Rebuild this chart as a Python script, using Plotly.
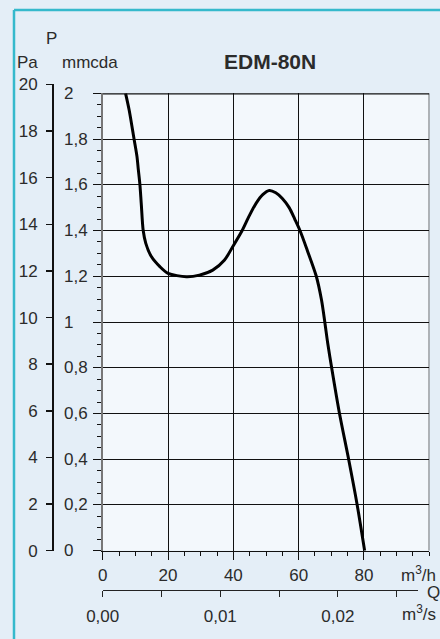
import plotly.graph_objects as go

# ---------------- data ----------------
flow_m3h = [7.0, 8.1, 9.6, 10.5, 10.9, 11.4, 11.8, 12.4, 13.2, 14.9, 17.5, 20.0,
            25.6, 29.6, 33.7, 37.3, 39.8, 42.7, 44.9, 47.0, 49.0, 51.0, 53.0, 55.0,
            57.1, 58.8, 60.4, 62.6, 65.4, 67.0, 68.0, 68.9, 70.1, 72.5, 75.3, 77.8,
            80.2]
pressure_mmcda = [2.0, 1.927, 1.8, 1.723, 1.667, 1.6, 1.519, 1.40, 1.344, 1.286, 1.242,
                  1.213, 1.198, 1.205, 1.227, 1.271, 1.329, 1.40, 1.465, 1.52, 1.557,
                  1.575, 1.565, 1.54, 1.50, 1.45, 1.40, 1.315, 1.20, 1.096, 1.0, 0.907,
                  0.8, 0.6, 0.4, 0.21, 0.0]

q_ticks = [0, 20, 40, 60, 80]
q_ticktext = ["0", "20", "40", "60", "80"]
qs_ticks = [0, 0.01, 0.02]
qs_ticktext = ["0,00", "0,01", "0,02"]
mm_ticks = [0, 0.2, 0.4, 0.6, 0.8, 1.0, 1.2, 1.4, 1.6, 1.8, 2.0]
mm_ticktext = ["0", "0,2", "0,4", "0,6", "0,8", "1", "1,2", "1,4", "1,6", "1,8", "2"]
pa_ticks = [0, 2, 4, 6, 8, 10, 12, 14, 16, 18, 20]

title_text = "EDM-80N"
X_RANGE = [0, 100]
Y_RANGE = [0, 2]
PA_PER_MMCDA = 9.81

# ---------------- layout helpers (screen pixel -> paper) ----------------
W, H = 440, 639
T, B = 70, 40
PH = H - T - B


def fx(px):
    return px / W


def fy(py):
    return (H - B - py) / PH


FONT = "Liberation Sans, Arial, Helvetica, sans-serif"
TXT = "#2b2b2b"
FS = 17

x_left, x_right = 102.7, 429.3
y_bottom, y_top = 550.7, 93.3
px_per_m3h = (x_right - x_left) / (X_RANGE[1] - X_RANGE[0])
px_per_mm = (y_bottom - y_top) / (Y_RANGE[1] - Y_RANGE[0])
pa_top_px = y_bottom - px_per_mm * (pa_ticks[-1] / PA_PER_MMCDA)
qs_end_px = 417.5
qs_end = (qs_end_px - x_left) / px_per_m3h / 3600.0

fig = go.Figure()

fig.add_trace(go.Scatter(
    x=flow_m3h, y=pressure_mmcda, mode="lines",
    line=dict(color="black", width=3, shape="spline", smoothing=0.8),
    xaxis="x", yaxis="y", hoverinfo="skip", showlegend=False,
))
# invisible helpers so the extra axes get drawn
fig.add_trace(go.Scatter(x=[None], y=[None], xaxis="x3", yaxis="y2",
                         showlegend=False, hoverinfo="skip"))
fig.add_trace(go.Scatter(x=[None], y=[None], xaxis="x2", yaxis="y3",
                         showlegend=False, hoverinfo="skip"))

fig.update_layout(
    template="none",
    width=W, height=H,
    margin=dict(l=0, r=0, t=T, b=B, pad=0, autoexpand=False),
    paper_bgcolor="#e4eef7",
    plot_bgcolor="rgba(0,0,0,0)",
    font=dict(family=FONT, size=FS, color=TXT),
    showlegend=False,
    hovermode=False,
    xaxis=dict(
        domain=[fx(x_left), fx(x_right)], range=X_RANGE, anchor="y",
        tickvals=q_ticks, ticktext=q_ticktext, ticks="outside", ticklen=8,
        tickcolor="#111", tickwidth=1,
        minor=dict(dtick=5, tick0=0, ticks="outside", ticklen=4, tickcolor="#111",
                   tickwidth=1, showgrid=False),
        showgrid=True, gridcolor="#111", gridwidth=1,
        showline=True, linecolor="#111", linewidth=1.5,
        zeroline=False, tickfont=dict(size=FS, color=TXT), fixedrange=True,
        automargin=False,
    ),
    yaxis=dict(
        domain=[fy(y_bottom), fy(y_top)], range=Y_RANGE, anchor="x",
        tickvals=mm_ticks, showticklabels=False, ticks="outside", ticklen=8,
        tickcolor="#111", tickwidth=1,
        minor=dict(dtick=0.05, tick0=0, ticks="outside", ticklen=4, tickcolor="#111",
                   tickwidth=1, showgrid=False),
        showgrid=True, gridcolor="#111", gridwidth=1,
        showline=True, linecolor="#777", linewidth=1.5,
        zeroline=False, fixedrange=True, automargin=False,
    ),
    yaxis2=dict(
        domain=[fy(y_bottom), fy(pa_top_px)], range=[0, pa_ticks[-1]],
        anchor="free", position=fx(52), side="left",
        tickvals=pa_ticks, ticks="outside", ticklen=6, tickcolor="#111", tickwidth=1.5,
        showline=True, linecolor="#111", linewidth=1.5, showgrid=False,
        zeroline=False, ticklabelstandoff=5,
        tickfont=dict(size=FS, color=TXT), fixedrange=True, automargin=False,
    ),
    xaxis3=dict(domain=[fx(x_left), fx(x_right)], range=X_RANGE, anchor="y2",
                visible=False, showgrid=False, fixedrange=True, automargin=False),
    xaxis2=dict(
        domain=[fx(x_left), fx(qs_end_px)], range=[0, qs_end],
        anchor="free", position=fy(590), side="bottom",
        tickvals=qs_ticks, ticktext=qs_ticktext, ticks="outside", ticklen=6,
        tickcolor="#222", tickwidth=1,
        minor=dict(dtick=0.005, tick0=0, ticks="outside", ticklen=6,
                   tickcolor="#222", tickwidth=1, showgrid=False),
        showline=True, linecolor="#222", linewidth=1, showgrid=False,
        zeroline=False, ticklabelstandoff=5,
        tickfont=dict(size=FS, color=TXT), fixedrange=True, automargin=False,
    ),
    yaxis3=dict(domain=[fy(y_bottom), fy(y_top)], range=Y_RANGE,
                anchor="x2", visible=False, showgrid=False, fixedrange=True,
                automargin=False),
)

shapes = [
    # plot background
    dict(type="rect", xref="x", yref="y", x0=X_RANGE[0], x1=X_RANGE[1],
         y0=Y_RANGE[0], y1=Y_RANGE[1], fillcolor="#f3f8fc",
         line=dict(width=0), layer="below"),
    # top frame
    dict(type="line", xref="x", yref="y", x0=X_RANGE[0], x1=X_RANGE[1],
         y0=Y_RANGE[1], y1=Y_RANGE[1], line=dict(color="#111", width=2.5)),
    # right frame
    dict(type="line", xref="x", yref="y", x0=X_RANGE[1], x1=X_RANGE[1],
         y0=Y_RANGE[0], y1=Y_RANGE[1], line=dict(color="#111", width=1.2)),
    # cyan page border
    dict(type="line", xref="paper", yref="paper", x0=fx(14), x1=fx(14),
         y0=fy(10), y1=fy(H + 20), line=dict(color="#35b9cc", width=2.5)),
    dict(type="line", xref="paper", yref="paper", x0=fx(14), x1=fx(W + 20),
         y0=fy(10), y1=fy(10), line=dict(color="#35b9cc", width=2.5)),
]
fig.update_layout(shapes=shapes)

ann = []
for v, t in zip(mm_ticks, mm_ticktext):
    ann.append(dict(x=fx(62), xref="paper", y=v, yref="y", text=t,
                    xanchor="left", yanchor="middle", showarrow=False,
                    font=dict(size=FS, color=TXT)))

labels = [
    (title_text, 269.7, 61.5, "center", 21, True),
    ("P", 51, 38, "center", FS, False),
    ("Pa", 27.7, 62.5, "center", FS, False),
    ("mmcda", 90, 62.5, "center", FS, False),
    ("m<sup>3</sup>/h", 418.5, 574, "center", FS, False),
    ("Q", 433, 592, "center", FS, False),
    ("m<sup>3</sup>/s", 418.5, 613, "center", FS, False),
]
for text, px, py, anchor, size, bold in labels:
    ann.append(dict(x=fx(px), xref="paper", y=fy(py), yref="paper",
                    text=f"<b>{text}</b>" if bold else text,
                    xanchor=anchor, yanchor="middle", showarrow=False,
                    font=dict(size=size, color=TXT, family=FONT)))
fig.update_layout(annotations=ann)

fig.write_html(
    "out.html",
    config={"displayModeBar": False, "staticPlot": True},
    post_script="document.body.style.margin='0px';document.body.style.overflow='hidden';",
)
